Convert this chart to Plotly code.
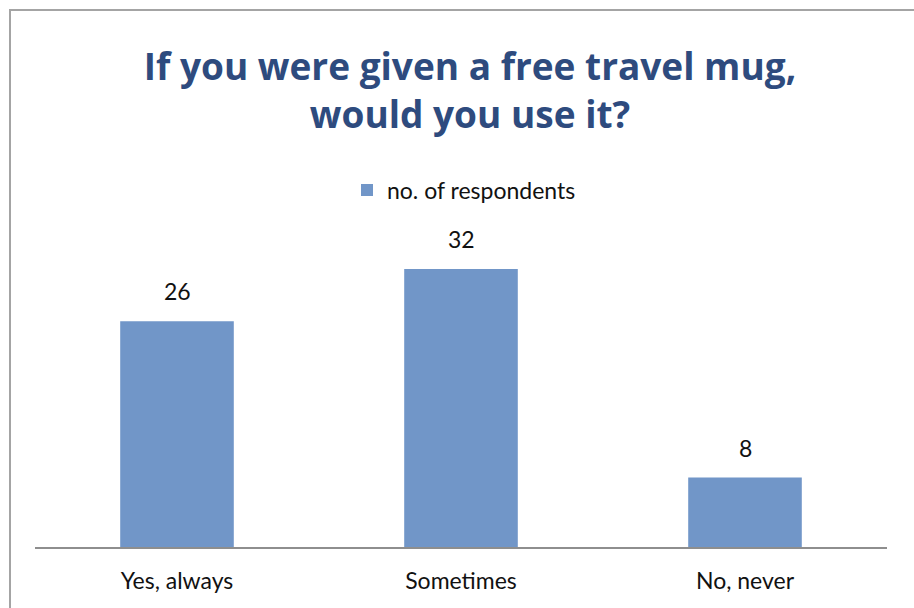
import plotly.graph_objects as go

categories = ["Yes, always", "Sometimes", "No, never"]
respondents = [26, 32, 8]
series_name = "no. of respondents"
title_lines = ["If you were given a free travel mug,", "would you use it?"]

W, H = 914, 608
ML, MR, MT, MB = 35, 27, 243, 61
PW, PH = W - ML - MR, H - MT - MB

TEXT_FONT = dict(family="Lato", size=23, color="#111111")


def px_x(p):
    return (p - ML) / PW


def px_y(p):
    return (H - MB - p) / PH


fig = go.Figure()
fig.add_trace(go.Bar(
    x=categories,
    y=respondents,
    name=series_name,
    marker=dict(color="#7196C8", line=dict(width=0)),
    showlegend=True,
))

# value labels sit a little above each bar
for cat, val in zip(categories, respondents):
    fig.add_annotation(
        x=cat, y=val, xref="x", yref="y",
        text=str(val), showarrow=False,
        yanchor="bottom", yshift=14,
        font=TEXT_FONT,
    )

fig.update_layout(
    width=W, height=H,
    margin=dict(l=ML, r=MR, t=MT, b=MB),
    paper_bgcolor="white",
    plot_bgcolor="white",
    bargap=0.6,
    title=dict(
        text="<br>".join(title_lines),
        x=px_x(470), xref="paper", xanchor="center",
        y=1 - 80 / H, yref="container", yanchor="middle",
        font=dict(family="Open Sans", size=37, color="#2E4B7E", weight="bold"),
    ),
    legend=dict(
        orientation="h",
        x=px_x(464), xanchor="center",
        y=px_y(190), yanchor="middle",
        font=TEXT_FONT,
        bgcolor="rgba(0,0,0,0)",
        itemwidth=30,
    ),
    xaxis=dict(
        showgrid=False,
        showline=True, linecolor="#8E8E8E", linewidth=2,
        ticks="",
        tickfont=TEXT_FONT,
        ticklabelstandoff=12,
    ),
    yaxis=dict(
        range=[0, 35],
        visible=False,
        showgrid=False,
        zeroline=False,
    ),
    shapes=[dict(
        type="rect", xref="paper", yref="paper",
        x0=px_x(10), x1=px_x(W + 20),
        y0=px_y(H + 20), y1=px_y(10),
        line=dict(color="#A4A4A4", width=2),
        fillcolor="rgba(0,0,0,0)",
        layer="below",
    )],
)

fig.write_html("out.html")
